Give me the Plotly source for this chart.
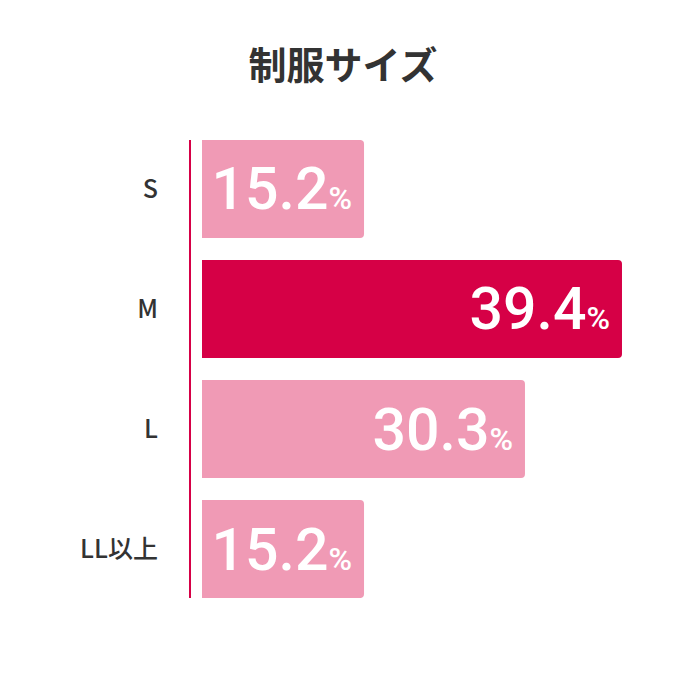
import plotly.graph_objects as go

categories = ["S", "M", "L", "LL以上"]
values = [15.2, 39.4, 30.3, 15.2]
highlight = "M"
title_text = "制服サイズ"

PINK = "#F09AB5"
CRIMSON = "#D60046"
colors = [CRIMSON if c == highlight else PINK for c in categories]

# page body has an 8px margin, so the figure is sized/placed to compensate
W = 682
H = 682

fig = go.Figure(
    go.Bar(
        y=categories,
        x=values,
        orientation="h",
        marker=dict(color=colors, line=dict(width=0), cornerradius=4),
        texttemplate="%{x:.1f}<span style='font-size:32px'>%\u00a0</span>",
        textposition="inside",
        insidetextanchor="end",
        constraintext="none",
        textangle=0,
        textfont=dict(family="Roboto", size=59, color="white", weight=500),
        hoverinfo="skip",
    )
)

fig.update_layout(
    width=W,
    height=H,
    margin=dict(l=183, r=50, t=132, b=92),
    paper_bgcolor="white",
    plot_bgcolor="white",
    bargap=0.1833,
    showlegend=False,
    title=dict(
        text=title_text,
        x=(343 - 8) / W,
        xref="container",
        xanchor="center",
        y=1 - (66 - 8) / H,
        yref="container",
        yanchor="middle",
        font=dict(family="Noto Sans CJK JP", size=38, color="#333333", weight="bold"),
    ),
    xaxis=dict(
        range=[-1.032, 41.09],
        visible=False,
        showgrid=False,
        zeroline=False,
        fixedrange=True,
    ),
    yaxis=dict(
        autorange=False,
        range=[3.408, -0.408],
        showline=True,
        linecolor=CRIMSON,
        linewidth=2,
        showgrid=False,
        zeroline=False,
        ticks="",
        ticklabelstandoff=26,
        tickfont=dict(family="Noto Sans CJK JP", size=25, color="#333333", weight=500),
        fixedrange=True,
    ),
)

fig.write_html("out.html")
